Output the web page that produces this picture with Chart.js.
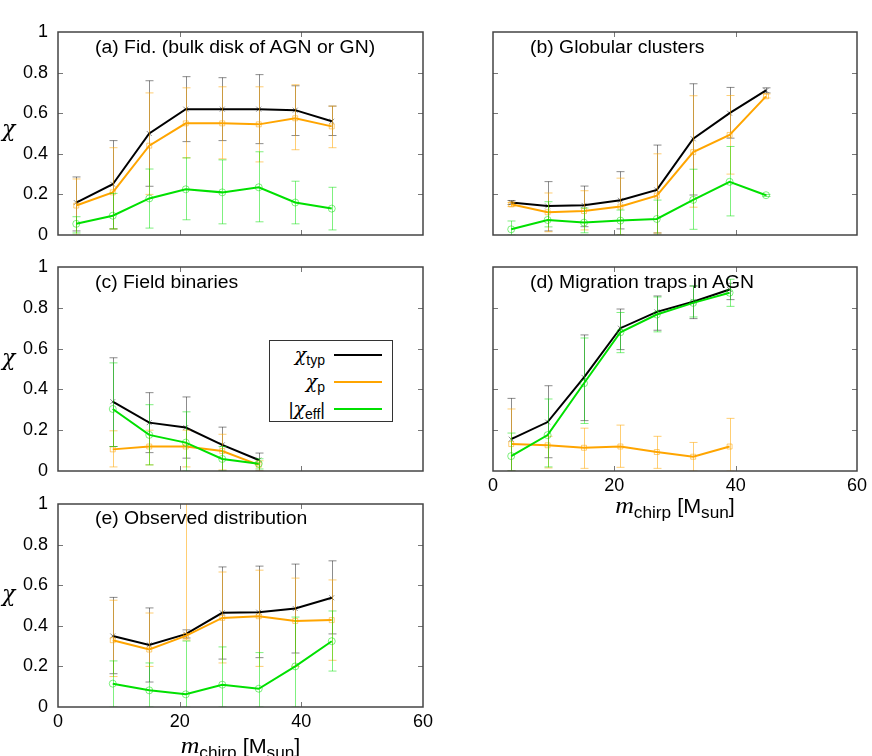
<!DOCTYPE html>
<html>
<head>
<meta charset="utf-8">
<script src="https://cdn.jsdelivr.net/npm/chart.js@4.4.1/dist/chart.umd.min.js"></script>
<style>
  html, body { margin:0; padding:0; background:#fff; }
  body { width:872px; height:756px; position:relative; overflow:hidden; font-family:'Liberation Sans', Arial, sans-serif; }
  canvas { position:absolute; }
  .lbl { position:absolute; white-space:nowrap; font-size:18px; line-height:18px; color:#000; transform:scaleX(1.077); transform-origin:0 0; }
  .chi { position:absolute; font-family:'DejaVu Serif', 'Liberation Serif', serif; font-style:italic; font-size:22px; line-height:22px; }
  .xt { position:absolute; text-align:center; font-size:20px; line-height:20px; white-space:nowrap; transform:scaleX(1.077); }
  .xt i { font-family:'Liberation Serif', 'DejaVu Serif', serif; font-size:24px; }
  .xt sub { font-size:16px; vertical-align:-5px; line-height:0; }
  #legend { position:absolute; left:269px; top:340px; width:124px; height:82px; border:1.5px solid #333; box-sizing:border-box; background:#fff; }
  .row { position:absolute; left:0; width:100%; height:27px; }
  .row span { position:absolute; right:67px; top:4px; font-size:18px; line-height:18px; white-space:nowrap; }
  .row span em { font-family:'DejaVu Serif', 'Liberation Serif', serif; font-style:italic; font-size:19px; }
  .row span sub { font-size:14px; vertical-align:-4px; line-height:0; }
  .row b { position:absolute; left:64px; width:48px; height:2px; top:13px; }
</style>
</head>
<body>
<canvas id="ca" width="435" height="250" style="left:0;top:0"></canvas>
<canvas id="cb" width="437" height="250" style="left:435px;top:0"></canvas>
<canvas id="cc" width="435" height="280" style="left:0;top:250px"></canvas>
<canvas id="cd" width="437" height="280" style="left:435px;top:250px"></canvas>
<canvas id="ce" width="435" height="266" style="left:0;top:490px"></canvas>

<div class="lbl" style="left:95px;top:38px">(a) Fid. (bulk disk of AGN or GN)</div>
<div class="lbl" style="left:530px;top:38px">(b) Globular clusters</div>
<div class="lbl" style="left:95px;top:273px">(c) Field binaries</div>
<div class="lbl" style="left:530px;top:272.5px">(d) Migration traps in AGN</div>
<div class="lbl" style="left:95px;top:509px">(e) Observed distribution</div>

<div class="chi" style="left:2px;top:118px">χ</div>
<div class="chi" style="left:2px;top:347px">χ</div>
<div class="chi" style="left:2px;top:583px">χ</div>

<div class="xt" style="left:493px;width:364px;top:495px"><i>m</i><sub>chirp</sub> [M<sub>sun</sub>]</div>
<div class="xt" style="left:58px;width:365px;top:735px"><i>m</i><sub>chirp</sub> [M<sub>sun</sub>]</div>

<div id="legend">
  <div class="row" style="top:0px"><span><em>χ</em><sub>typ</sub></span><b style="background:#000"></b></div>
  <div class="row" style="top:27px"><span><em>χ</em><sub>p</sub></span><b style="background:#ffa500"></b></div>
  <div class="row" style="top:54px"><span>|<em>χ</em><sub>eff</sub>|</span><b style="background:#00e000"></b></div>
</div>

<script>
// ---------- data ----------
const xTicks = [0, 20, 40, 60];
const yTicks = [0, 0.2, 0.4, 0.6, 0.8, 1];

// (a) Fid. (bulk disk of AGN or GN)
const aX      = [3, 9, 15, 21, 27, 33, 39, 45];
const aTyp    = [0.16, 0.25, 0.50, 0.62, 0.62, 0.62, 0.615, 0.56];
const aTypLo  = [0.02, 0.03, 0.24, 0.46, 0.465, 0.45, 0.49, 0.49];
const aTypHi  = [0.286, 0.465, 0.76, 0.78, 0.775, 0.79, 0.735, 0.635];
const aP      = [0.145, 0.21, 0.44, 0.55, 0.55, 0.545, 0.575, 0.535];
const aPLo    = [0.0, 0.03, 0.2, 0.38, 0.375, 0.36, 0.42, 0.43];
const aPHi    = [0.276, 0.43, 0.70, 0.725, 0.73, 0.73, 0.74, 0.635];
const aEff    = [0.055, 0.095, 0.18, 0.225, 0.21, 0.235, 0.16, 0.13];
const aEffLo  = [0.01, 0.03, 0.034, 0.075, 0.055, 0.065, 0.055, 0.025];
const aEffHi  = [0.09, 0.205, 0.325, 0.38, 0.37, 0.41, 0.265, 0.235];

// (b) Globular clusters
const bX      = [3, 9, 15, 21, 27, 33, 39, 45];
const bTyp    = [0.16, 0.143, 0.146, 0.171, 0.222, 0.474, 0.60, 0.712];
const bTypLo  = [0.15, 0.02, 0.041, 0.03, 0.01, 0.197, 0.477, 0.70];
const bTypHi  = [0.17, 0.263, 0.241, 0.312, 0.443, 0.745, 0.727, 0.725];
const bP      = [0.151, 0.112, 0.118, 0.14, 0.194, 0.408, 0.493, 0.683];
const bPLo    = [0.14, 0.016, 0.025, 0.0, 0.01, 0.137, 0.30, 0.675];
const bPHi    = [0.16, 0.207, 0.218, 0.28, 0.40, 0.686, 0.687, 0.695];
const bEff    = [0.028, 0.074, 0.061, 0.071, 0.079, 0.173, 0.262, 0.196];
const bEffLo  = [0.0, 0.04, 0.011, 0.0, 0.0, 0.028, 0.094, 0.19];
const bEffHi  = [0.069, 0.164, 0.133, 0.123, 0.172, 0.324, 0.436, 0.2];

// (c) Field binaries
const cX      = [9, 15, 21, 27, 33];
const cTyp    = [0.34, 0.237, 0.213, 0.128, 0.054];
const cTypLo  = [0.12, 0.09, 0.063, 0.0, 0.0];
const cTypHi  = [0.555, 0.384, 0.363, 0.215, 0.088];
const cP      = [0.106, 0.12, 0.12, 0.098, 0.03];
const cPLo    = [0.02, 0.03, 0.02, 0.005, 0.0];
const cPHi    = [0.197, 0.2, 0.2, 0.18, 0.05];
const cEff    = [0.304, 0.177, 0.139, 0.059, 0.036];
const cEffLo  = [0.12, 0.03, 0.0, 0.0, 0.01];
const cEffHi  = [0.53, 0.325, 0.29, 0.12, 0.06];

// (d) Migration traps in AGN
const dX      = [3, 9, 15, 21, 27, 33, 39];
const dTyp    = [0.156, 0.24, 0.459, 0.70, 0.78, 0.83, 0.89];
const dTypLo  = [0.0, 0.065, 0.247, 0.595, 0.69, 0.747, 0.84];
const dTypHi  = [0.356, 0.418, 0.667, 0.794, 0.858, 0.907, 0.92];
const dP      = [0.132, 0.126, 0.114, 0.12, 0.093, 0.07, 0.12];
const dPLo    = [0.0, 0.015, 0.013, 0.018, 0.013, 0.0, 0.0];
const dPHi    = [0.304, 0.17, 0.21, 0.225, 0.17, 0.14, 0.258];
const dEff    = [0.073, 0.176, 0.43, 0.68, 0.767, 0.824, 0.874];
const dEffLo  = [0.0, 0.02, 0.233, 0.58, 0.682, 0.755, 0.807];
const dEffHi  = [0.186, 0.353, 0.652, 0.777, 0.853, 0.907, 0.94];

// (e) Observed distribution
const eX      = [9, 15, 21, 27, 33, 39, 45];
const eTyp    = [0.35, 0.306, 0.359, 0.464, 0.467, 0.485, 0.538];
const eTypLo  = [0.164, 0.123, 0.34, 0.236, 0.243, 0.266, 0.36];
const eTypHi  = [0.54, 0.488, 0.38, 0.69, 0.694, 0.704, 0.72];
const eP      = [0.329, 0.283, 0.35, 0.439, 0.447, 0.424, 0.428];
const ePLo    = [0.15, 0.2, 0.33, 0.217, 0.2, 0.2, 0.23];
const ePHi    = [0.526, 0.463, 1.2, 0.665, 0.674, 0.635, 0.626];
const eEff    = [0.115, 0.082, 0.0625, 0.11, 0.09, 0.20, 0.324];
const eEffLo  = [0.0, 0.0, 0.0, 0.0, 0.0, 0.0, 0.177];
const eEffHi  = [0.227, 0.217, 0.325, 0.296, 0.268, 0.443, 0.473];

// ---------- styling ----------
const COL_TYP = '#000000', COL_P = '#ffa500', COL_EFF = '#00e000';
const ERR_TYP = 'rgba(0,0,0,0.45)', ERR_P = 'rgba(255,165,0,0.55)', ERR_EFF = 'rgba(0,225,0,0.5)';

Chart.defaults.font.family = "'Liberation Sans', Arial, sans-serif";
Chart.defaults.font.size = 18;
Chart.defaults.color = '#000';

const errPlugin = {
  id: 'errbars',
  beforeDatasetDraw(chart, args) {
    const ds = chart.data.datasets[args.index];
    if (!ds.errLo) return;
    const { ctx, chartArea: ca, scales: { x, y } } = chart;
    ctx.save();
    ctx.beginPath(); ctx.rect(ca.left, ca.top, ca.width, ca.height); ctx.clip();
    ctx.strokeStyle = ds.errColor; ctx.lineWidth = 1;
    ds.data.forEach((p, j) => {
      const px = Math.round(x.getPixelForValue(p.x)) + 0.5;
      const pl = y.getPixelForValue(ds.errLo[j]);
      const ph = y.getPixelForValue(ds.errHi[j]);
      ctx.beginPath();
      ctx.moveTo(px, pl); ctx.lineTo(px, ph);
      ctx.moveTo(px - 4, pl); ctx.lineTo(px + 4, pl);
      ctx.moveTo(px - 4, ph); ctx.lineTo(px + 4, ph);
      ctx.stroke();
    });
    ctx.restore();
  }
};

const framePlugin = {
  id: 'frame',
  afterDraw(chart) {
    const { ctx, chartArea: ca, scales: { x, y } } = chart;
    ctx.save();
    ctx.strokeStyle = '#777'; ctx.lineWidth = 1;
    ctx.beginPath();
    x.ticks.forEach(t => {
      if (t.value <= x.min || t.value >= x.max) return;
      const px = Math.round(x.getPixelForValue(t.value)) + 0.5;
      ctx.moveTo(px, ca.bottom); ctx.lineTo(px, ca.bottom - 5);
      ctx.moveTo(px, ca.top); ctx.lineTo(px, ca.top + 5);
    });
    y.ticks.forEach(t => {
      if (t.value <= y.min || t.value >= y.max) return;
      const py = Math.round(y.getPixelForValue(t.value)) + 0.5;
      ctx.moveTo(ca.left, py); ctx.lineTo(ca.left + 5, py);
      ctx.moveTo(ca.right, py); ctx.lineTo(ca.right - 5, py);
    });
    ctx.stroke();
    ctx.strokeStyle = '#444'; ctx.lineWidth = 1.5;
    ctx.strokeRect(ca.left, ca.top, ca.width, ca.height);
    ctx.restore();
  }
};

function series(xs, ys, lo, hi, col, errCol, style, order) {
  return {
    data: xs.map((v, i) => ({ x: v, y: ys[i] })),
    errLo: lo, errHi: hi, errColor: errCol,
    borderColor: col, borderWidth: 2, tension: 0,
    pointStyle: style, pointRadius: 3.5, pointBorderWidth: 1,
    pointBorderColor: errCol, pointBackgroundColor: 'rgba(0,0,0,0)',
    order: order
  };
}

function makeChart(id, xs, s, opts) {
  const canvas = document.getElementById(id);
  const H = canvas.height;
  return new Chart(canvas, {
    type: 'line',
    data: {
      datasets: [
        series(xs, s[0], s[1], s[2], COL_TYP, ERR_TYP, 'crossRot', 3),
        series(xs, s[3], s[4], s[5], COL_P, ERR_P, 'rect', 2),
        series(xs, s[6], s[7], s[8], COL_EFF, ERR_EFF, 'circle', 1)
      ]
    },
    options: {
      responsive: false, animation: false,
      layout: { padding: { top: opts.top, right: opts.right, left: 0, bottom: 0 } },
      plugins: { legend: { display: false }, tooltip: { enabled: false } },
      scales: {
        x: {
          type: 'linear', min: 0, max: 60,
          afterBuildTicks: sc => { sc.ticks = xTicks.map(v => ({ value: v })); },
          ticks: { display: opts.xLabels, autoSkip: false, maxRotation: 0, padding: 4,
                   callback: v => String(v) },
          grid: { display: false, drawTicks: false }, border: { display: false },
          afterFit: sc => {
            sc.height = H - opts.bottom;
            sc.paddingLeft = 0; sc.paddingRight = 0; sc.paddingTop = 0; sc.paddingBottom = 0;
          }
        },
        y: {
          type: 'linear', min: 0, max: 1,
          afterBuildTicks: sc => { sc.ticks = yTicks.map(v => ({ value: v })); },
          ticks: { display: opts.yLabels, autoSkip: false, padding: 10,
                   callback: v => String(Math.round(v * 10) / 10) },
          grid: { display: false, drawTicks: false }, border: { display: false },
          afterFit: sc => {
            sc.width = 58;
            sc.paddingLeft = 0; sc.paddingRight = 0; sc.paddingTop = 0; sc.paddingBottom = 0;
          }
        }
      }
    },
    plugins: [errPlugin, framePlugin]
  });
}

makeChart('ca', aX, [aTyp, aTypLo, aTypHi, aP, aPLo, aPHi, aEff, aEffLo, aEffHi],
  { top: 32, bottom: 235, right: 12, xLabels: false, yLabels: true });
makeChart('cb', bX, [bTyp, bTypLo, bTypHi, bP, bPLo, bPHi, bEff, bEffLo, bEffHi],
  { top: 32, bottom: 235, right: 15, xLabels: false, yLabels: false });
makeChart('cc', cX, [cTyp, cTypLo, cTypHi, cP, cPLo, cPHi, cEff, cEffLo, cEffHi],
  { top: 17, bottom: 221, right: 12, xLabels: false, yLabels: true });
makeChart('cd', dX, [dTyp, dTypLo, dTypHi, dP, dPLo, dPHi, dEff, dEffLo, dEffHi],
  { top: 17, bottom: 221, right: 15, xLabels: true, yLabels: false });
makeChart('ce', eX, [eTyp, eTypLo, eTypHi, eP, ePLo, ePHi, eEff, eEffLo, eEffHi],
  { top: 14, bottom: 217, right: 12, xLabels: true, yLabels: true });
</script>
</body>
</html>
